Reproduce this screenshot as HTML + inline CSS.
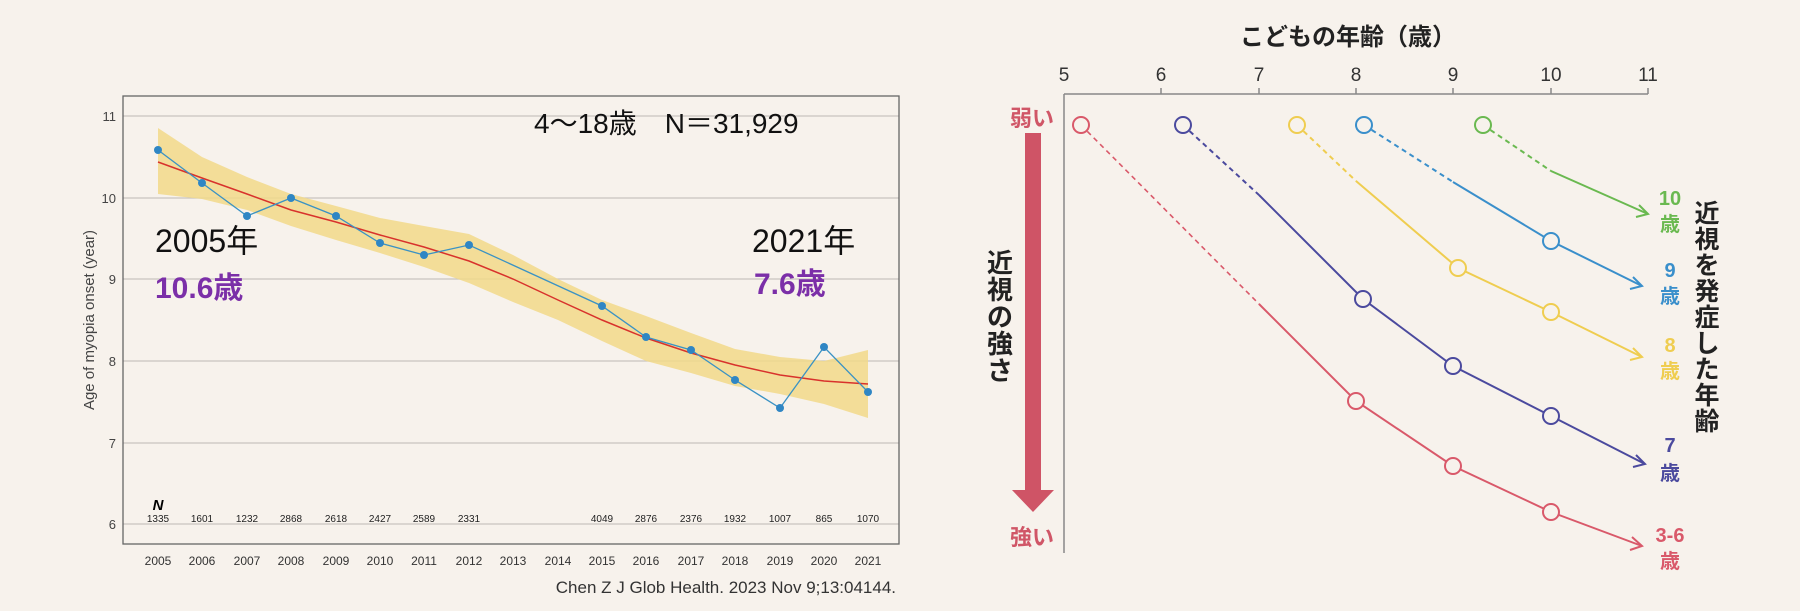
<!DOCTYPE html>
<html><head><meta charset="utf-8"><style>
html,body{margin:0;padding:0;background:#f7f2ec;}
svg{display:block}
text{font-family:"Liberation Sans","Noto Sans CJK JP",sans-serif;}
</style></head><body>
<svg width="1800" height="611" viewBox="0 0 1800 611" xmlns="http://www.w3.org/2000/svg">
<rect width="1800" height="611" fill="#f7f2ec"/>
<!-- LEFT CHART -->
<g stroke="#c8c4c0" stroke-width="1.2">
<line x1="123" y1="116" x2="899" y2="116"/>
<line x1="123" y1="198" x2="899" y2="198"/>
<line x1="123" y1="279" x2="899" y2="279"/>
<line x1="123" y1="361" x2="899" y2="361"/>
<line x1="123" y1="443" x2="899" y2="443"/>
<line x1="123" y1="524" x2="899" y2="524"/>
</g>
<rect x="123" y="96" width="776" height="448" fill="none" stroke="#666" stroke-width="1.3"/>
<g font-size="13" fill="#444" text-anchor="end">
<text x="116" y="121">11</text><text x="116" y="203">10</text><text x="116" y="284">9</text>
<text x="116" y="366">8</text><text x="116" y="448">7</text><text x="116" y="529">6</text>
</g>
<text transform="translate(94,320) rotate(-90)" font-size="15" fill="#444" text-anchor="middle">Age of myopia onset (year)</text>
<!-- band -->
<path fill="#f2d98a" opacity="0.85" d="M158,128 L202,157 L247,177 L291,194 L336,206 L380,218 L424,226 L469,234 L513,255 L558,279 L602,300 L646,316 L691,333 L735,349 L780,357 L824,361 L868,350 L868,418 L824,404 L780,394 L735,386 L691,373 L646,361 L602,341 L558,320 L513,302 L469,283 L424,267 L380,253 L336,240 L291,226 L247,210 L202,199 L158,194 Z"/>
<!-- red fit -->
<polyline fill="none" stroke="#d8322c" stroke-width="1.5" points="158,162 202,178 247,194 291,210 336,222 380,235 424,247 469,261 513,279 558,300 602,320 646,338 691,353 735,365 780,375 824,381 868,384"/>
<!-- blue data -->
<polyline fill="none" stroke="#3a92c4" stroke-width="1.3" points="158,150 202,183 247,216 291,198 336,216 380,243 424,255 469,245 602,306 646,337 691,350 735,380 780,408 824,347 868,392"/>
<g fill="#2f86c4">
<circle cx="158" cy="150" r="4"/><circle cx="202" cy="183" r="4"/><circle cx="247" cy="216" r="4"/><circle cx="291" cy="198" r="4"/><circle cx="336" cy="216" r="4"/><circle cx="380" cy="243" r="4"/><circle cx="424" cy="255" r="4"/><circle cx="469" cy="245" r="4"/><circle cx="602" cy="306" r="4"/><circle cx="646" cy="337" r="4"/><circle cx="691" cy="350" r="4"/><circle cx="735" cy="380" r="4"/><circle cx="780" cy="408" r="4"/><circle cx="824" cy="347" r="4"/><circle cx="868" cy="392" r="4"/>
</g>
<text x="158" y="510" font-size="15" font-weight="bold" font-style="italic" text-anchor="middle">N</text>
<g font-size="10" fill="#222" text-anchor="middle">
<text x="158" y="522">1335</text><text x="202" y="522">1601</text><text x="247" y="522">1232</text><text x="291" y="522">2868</text><text x="336" y="522">2618</text><text x="380" y="522">2427</text><text x="424" y="522">2589</text><text x="469" y="522">2331</text><text x="602" y="522">4049</text><text x="646" y="522">2876</text><text x="691" y="522">2376</text><text x="735" y="522">1932</text><text x="780" y="522">1007</text><text x="824" y="522">865</text><text x="868" y="522">1070</text>
</g>
<g font-size="12" fill="#333" text-anchor="middle">
<text x="158" y="565">2005</text><text x="202" y="565">2006</text><text x="247" y="565">2007</text><text x="291" y="565">2008</text><text x="336" y="565">2009</text><text x="380" y="565">2010</text><text x="424" y="565">2011</text><text x="469" y="565">2012</text><text x="513" y="565">2013</text><text x="558" y="565">2014</text><text x="602" y="565">2015</text><text x="646" y="565">2016</text><text x="691" y="565">2017</text><text x="735" y="565">2018</text><text x="780" y="565">2019</text><text x="824" y="565">2020</text><text x="868" y="565">2021</text>
</g>
<text x="896" y="593" font-size="17" fill="#333" text-anchor="end">Chen Z   J Glob Health. 2023 Nov 9;13:04144.</text>
<text x="534" y="133" font-size="28" fill="#111">4〜18歳　N＝31,929</text>
<text x="155" y="252" font-size="32" fill="#111">2005年</text>
<text x="155" y="298" font-size="30" font-weight="bold" fill="#7b2fa8">10.6歳</text>
<text x="752" y="252" font-size="32" fill="#111">2021年</text>
<text x="754" y="294" font-size="30" font-weight="bold" fill="#7b2fa8">7.6歳</text>

<!-- RIGHT CHART -->
<text x="1348" y="45" font-size="24" font-weight="bold" fill="#222" text-anchor="middle">こどもの年齢（歳）</text>
<g font-size="19" fill="#333" text-anchor="middle">
<text x="1064" y="81">5</text><text x="1161" y="81">6</text><text x="1259" y="81">7</text><text x="1356" y="81">8</text><text x="1453" y="81">9</text><text x="1551" y="81">10</text><text x="1648" y="81">11</text>
</g>
<g stroke="#888" stroke-width="1.5">
<line x1="1064" y1="94" x2="1648" y2="94"/><line x1="1064" y1="94" x2="1064" y2="553"/>
<line x1="1161" y1="88" x2="1161" y2="94"/><line x1="1259" y1="88" x2="1259" y2="94"/><line x1="1356" y1="88" x2="1356" y2="94"/><line x1="1453" y1="88" x2="1453" y2="94"/><line x1="1551" y1="88" x2="1551" y2="94"/><line x1="1648" y1="88" x2="1648" y2="94"/>
</g>
<text x="1032" y="126" font-size="22" font-weight="bold" fill="#d05667" text-anchor="middle">弱い</text>
<text x="1032" y="545" font-size="22" font-weight="bold" fill="#d05667" text-anchor="middle">強い</text>
<path d="M1025,133 L1041,133 L1041,490 L1054,490 L1033,512 L1012,490 L1025,490 Z" fill="#cf5466"/>
<text font-size="26" font-weight="bold" fill="#222" text-anchor="middle">
<tspan x="1000" y="272">近</tspan><tspan x="1000" y="299">視</tspan><tspan x="1000" y="326">の</tspan><tspan x="1000" y="353">強</tspan><tspan x="1000" y="380">さ</tspan>
</text>
<text font-size="25" font-weight="bold" fill="#222" text-anchor="middle">
<tspan x="1707" y="222">近</tspan><tspan x="1707" y="248">視</tspan><tspan x="1707" y="274">を</tspan><tspan x="1707" y="300">発</tspan><tspan x="1707" y="326">症</tspan><tspan x="1707" y="352">し</tspan><tspan x="1707" y="378">た</tspan><tspan x="1707" y="404">年</tspan><tspan x="1707" y="430">齢</tspan>
</text>
<g fill="none" stroke-width="2">
<g stroke="#d9596a">
<line x1="1081" y1="125" x2="1259" y2="304" stroke-dasharray="5,4" stroke-width="1.6"/>
<polyline points="1259,304 1356,401 1453,466 1551,512 1642,546"/>
<polyline points="1632,537 1642,546 1630,550"/>
<circle cx="1081" cy="125" r="8" fill="#f7f2ec"/><circle cx="1356" cy="401" r="8" fill="#f7f2ec"/><circle cx="1453" cy="466" r="8" fill="#f7f2ec"/><circle cx="1551" cy="512" r="8" fill="#f7f2ec"/>
</g>
<g stroke="#4b4a9e">
<line x1="1183" y1="125" x2="1259" y2="195" stroke-dasharray="5,4"/>
<polyline points="1259,195 1363,299 1453,366 1551,416 1645,464"/>
<polyline points="1636,455 1645,464 1633,467"/>
<circle cx="1183" cy="125" r="8" fill="#f7f2ec"/><circle cx="1363" cy="299" r="8" fill="#f7f2ec"/><circle cx="1453" cy="366" r="8" fill="#f7f2ec"/><circle cx="1551" cy="416" r="8" fill="#f7f2ec"/>
</g>
<g stroke="#efcd50">
<line x1="1297" y1="125" x2="1356" y2="181" stroke-dasharray="5,4"/>
<polyline points="1356,181 1458,268 1551,312 1642,357"/>
<polyline points="1633,348 1642,357 1630,360"/>
<circle cx="1297" cy="125" r="8" fill="#f7f2ec"/><circle cx="1458" cy="268" r="8" fill="#f7f2ec"/><circle cx="1551" cy="312" r="8" fill="#f7f2ec"/>
</g>
<g stroke="#3a8fcb">
<line x1="1364" y1="125" x2="1453" y2="182" stroke-dasharray="5,4"/>
<polyline points="1453,182 1551,241 1642,286"/>
<polyline points="1633,277 1642,286 1630,289"/>
<circle cx="1364" cy="125" r="8" fill="#f7f2ec"/><circle cx="1551" cy="241" r="8" fill="#f7f2ec"/>
</g>
<g stroke="#6ab950">
<line x1="1483" y1="125" x2="1551" y2="171" stroke-dasharray="5,4"/>
<polyline points="1551,171 1648,214"/>
<polyline points="1639,205 1648,214 1636,217"/>
<circle cx="1483" cy="125" r="8" fill="#f7f2ec"/>
</g>
</g>
<g font-size="20" font-weight="bold" text-anchor="middle">
<text x="1670" y="205" fill="#6ab950">10</text><text x="1670" y="231" fill="#6ab950">歳</text>
<text x="1670" y="277" fill="#3a8fcb">9</text><text x="1670" y="303" fill="#3a8fcb">歳</text>
<text x="1670" y="352" fill="#efcd50">8</text><text x="1670" y="378" fill="#efcd50">歳</text>
<text x="1670" y="452" fill="#4b4a9e">7</text><text x="1670" y="480" fill="#4b4a9e">歳</text>
<text x="1670" y="542" fill="#d9596a">3-6</text><text x="1670" y="568" fill="#d9596a">歳</text>
</g>
</svg>
</body></html>
